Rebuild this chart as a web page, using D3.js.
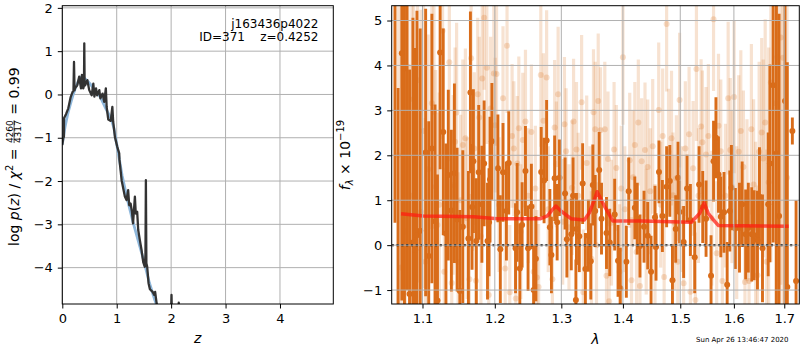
<!DOCTYPE html>
<html>
<head>
<meta charset="UTF-8">
<title></title>
<script src="https://cdn.jsdelivr.net/npm/d3@7"></script>
<style>
  body { margin: 0; background: #fff; }
  svg text { font-family: "DejaVu Sans", sans-serif; fill: #000; white-space: pre; }
</style>
</head>
<body>
<svg id="chart" width="800" height="350"></svg>
<script>
// ---- left panel: log p(z)
var pzZ = [0, 0.018, 0.03, 0.031, 0.07, 0.11, 0.154, 0.19, 0.205, 0.215, 0.225, 0.233, 0.275, 0.31, 0.343, 0.36, 0.385, 0.398, 0.404, 0.41,
  0.42, 0.46, 0.495, 0.54, 0.57, 0.59, 0.62, 0.64, 0.68, 0.70, 0.74, 0.77, 0.80, 0.815, 0.845, 0.89, 0.92, 0.935, 0.967, 1.01,
  1.046, 1.05, 1.09, 1.15, 1.18, 1.21, 1.23, 1.255, 1.28, 1.30, 1.334, 1.35, 1.376, 1.395, 1.426, 1.457, 1.487, 1.517, 1.528, 1.536,
  1.545, 1.56, 1.585, 1.61, 1.66, 1.69, 1.706, 1.73, 1.75, 1.85, 1.99, 2.007, 2.02, 2.13, 2.14, 2.15, 2.3];
var pzLogp = [-1.17, -1.0, -0.98, -0.55, -0.45, -0.32, -0.06, 0.06, 0.08, 0.75, 0.1, 0.14, 0.21, 0.41, 0.14, 0.45, 0.14, 0.2, 1.18, 0.3,
  0.21, 0.33, 0.10, -0.02, 0.25, -0.05, 0.14, -0.02, 0.10, -0.09, 0.02, -0.17, 0.14, -0.29, -0.58, -0.61, -0.29, -0.63, -0.98, -1.21,
  -1.36, -1.5, -1.98, -2.36, -2.44, -2.21, -2.56, -2.52, -2.71, -2.98, -2.36, -2.75, -2.71, -3.13, -3.37, -3.6, -3.87, -3.98, -3.7, -1.98,
  -3.9, -3.98, -4.36, -4.5, -4.56, -4.63, -4.56, -4.79, -4.95, -5.5, -5.5, -4.63, -5.5, -5.5, -4.81, -5.5, -6];
var smoothZ = [0, 0.05, 0.1, 0.15, 0.2, 0.25, 0.3, 0.35, 0.4, 0.45, 0.5, 0.6, 0.7, 0.8, 0.9, 0.95, 1.0, 1.1, 1.2, 1.3, 1.4, 1.5, 1.6, 1.7, 1.75, 1.8];
var smoothLogp = [-1.15, -0.75, -0.45, -0.22, 0.0, 0.18, 0.32, 0.4, 0.38, 0.33, 0.26, 0.1, -0.06, -0.33, -0.57, -0.78, -1.15, -1.88, -2.45, -2.95, -3.4, -3.85, -4.35, -4.75, -4.92, -5.1];
var zTicks = [0, 1, 2, 3, 4];
var pTicks = [-4, -3, -2, -1, 0, 1, 2];

// ---- right panel: spectrum (two sets) and model
var darkWave = [1.0642, 1.0682, 1.0730, 1.0764, 1.0797, 1.0830, 1.0874, 1.0904, 1.0927, 1.0970, 1.1042, 1.1083, 1.1125, 1.1167, 1.1200, 1.1236,
  1.1278, 1.1315, 1.1347, 1.1389, 1.1431, 1.1468, 1.1506, 1.1547, 1.1625, 1.1653, 1.1676, 1.1695, 1.1736, 1.1770, 1.1815, 1.1847, 1.1895,
  1.1917, 1.1931, 1.1958, 1.2045, 1.2080, 1.2119, 1.2169, 1.2203, 1.2303, 1.2327, 1.2367, 1.2401, 1.2451, 1.2490, 1.2540, 1.2574, 1.2608,
  1.2689, 1.2733, 1.2772, 1.2822, 1.2846, 1.2896, 1.2935, 1.2971, 1.3059, 1.3087, 1.3157, 1.3185, 1.3230, 1.3239, 1.3284, 1.3338, 1.3382,
  1.3431, 1.3469, 1.3502, 1.3541, 1.3606, 1.3644, 1.3726, 1.3780, 1.3862, 1.3918, 1.3956, 1.4058, 1.4098, 1.4202, 1.4244, 1.4290, 1.4360,
  1.4424, 1.4482, 1.4551, 1.4569, 1.4621, 1.4681, 1.4756, 1.4813, 1.4860, 1.4918, 1.4960, 1.4988, 1.5061, 1.5123, 1.5184, 1.5263, 1.5344,
  1.5411, 1.5473, 1.5566, 1.5613, 1.5658, 1.5706, 1.5750, 1.5811, 1.5871, 1.5921, 1.5952, 1.6028, 1.6108, 1.6160, 1.6228, 1.6280, 1.6348,
  1.6394, 1.6460, 1.6500, 1.6560, 1.6674, 1.6708, 1.6774, 1.6840, 1.6894, 1.7015, 1.7062, 1.7166, 1.7243];
var darkFlux = [6.5, -2.5, 4.27, 3.94, 7.0, -1.09, 0.06, -0.11, 0.22, 0.32, 2.06, -0.24, 2.15, 0.53, -1.23, 4.29,
  2.52, 0.26, 1.56, 0.77, 1.60, 0.57, -1.02, 0.41, 0.15, 3.40, 0.85, 1.87, 0.09, 1.62, 0.91, 1.82, 0.09,
  0.51, 1.46, 2.31, 1.71, -0.09, 1.62, 0.76, 1.83, -0.07, 0.73, -0.52, 0.45, 1.65, -0.07, 0.86, -1.00, -0.30,
  1.63, 1.44, 2.33, 0.40, -0.22, 1.49, 0.51, 1.50, 1.15, 0.13, 0.24, 1.10, -1.22, 0.36, 0.20, 1.37, -0.53,
  0.21, -0.36, 1.34, 0.76, 1.67, 0.59, 0.27, 0.06, 0.68, -0.35, -0.96, -0.37, 1.20, 0.83, 0.59, -0.02, 0.41,
  0.21, -0.59, 0.62, -0.04, 1.63, 0.65, 1.30, 1.43, -0.78, 0.36, 1.50, 0.74, 0.07, 1.26, 0.56, -0.27, 1.35,
  0.85, 0.59, -0.68, 1.87, 2.39, 1.57, 0.63, 0.73, -0.88, 0.76, 1.28, 0.37, 0.39, 0.91, 0.24, 0.39, 0.24,
  0.22, 0.11, 1.08, -0.07, 0.91, 1.82, 3.56, 2.04, 0.65, 3.21, -0.93, 2.54, -0.8];
var darkErr = [6, 6, 5.5, 5.5, 8, 5, 5, 4.5, 5, 4.5, 3.2, 3.0, 3.0, 2.6, 2.8, 2.6,
  2.3, 2.0, 1.9, 1.8, 2.0, 1.6, 1.8, 1.7, 1.5, 1.8, 1.4, 1.6, 1.4, 1.5, 1.3, 1.4, 1.3,
  1.2, 1.4, 1.3, 1.2, 1.2, 1.1, 1.1, 1.15, 1.0, 1.1, 1.0, 0.95, 1.0, 0.95, 0.95, 1.0, 0.95,
  1.0, 0.95, 0.9, 0.85, 0.85, 0.95, 0.85, 0.85, 0.8, 0.85, 0.8, 0.85, 0.9, 0.8, 0.8, 0.9, 0.8,
  0.8, 0.85, 0.9, 0.8, 0.85, 0.8, 0.8, 0.75, 0.8, 0.8, 0.9, 0.8, 0.75, 0.7, 0.8, 0.7, 0.8,
  0.75, 0.8, 0.7, 0.75, 0.7, 0.8, 0.9, 0.8, 0.8, 0.75, 0.8, 0.7, 0.8, 0.75, 0.8, 0.8, 0.85,
  0.8, 0.85, 0.9, 0.9, 0.9, 0.85, 0.9, 0.9, 0.95, 0.9, 0.95, 0.9, 1.0, 0.95, 1.0, 1.0, 1.05,
  1.0, 1.1, 1.1, 1.2, 1.6, 2.2, 3.5, 4.0, 4.5, 5.0, 5.0, 0.3, 1.8];

var lightWave = [1.0682, 1.0721, 1.0773, 1.0809, 1.0861, 1.0882, 1.0934, 1.0979, 1.1014, 1.1038, 1.1075, 1.1125, 1.1153, 1.1176, 1.1200,
  1.1225, 1.1269, 1.1292, 1.1361, 1.1394, 1.1413, 1.1440, 1.1461, 1.1482, 1.1517, 1.1547, 1.1583, 1.1607, 1.1639, 1.1663, 1.1683, 1.1708,
  1.1732, 1.1756, 1.1778, 1.1801, 1.1820, 1.1847, 1.1885, 1.1913, 1.1940, 1.1986, 1.2006, 1.2025, 1.2062, 1.2119, 1.2151, 1.2178, 1.2218,
  1.2252, 1.2278, 1.2307, 1.2329, 1.2352, 1.2381, 1.2411, 1.2451, 1.2493, 1.2540, 1.2574, 1.2600, 1.2623, 1.2649, 1.2683, 1.2723, 1.2772,
  1.2797, 1.2861, 1.2896, 1.2923, 1.2950, 1.3021, 1.3049, 1.3075, 1.3120, 1.3169, 1.3193, 1.3239, 1.3267, 1.3321, 1.3349, 1.3403, 1.3456,
  1.3480, 1.3513, 1.3541, 1.3562, 1.3590, 1.3628, 1.3698, 1.3726, 1.3751, 1.3770, 1.3808, 1.3852, 1.3890, 1.3944, 1.3972, 1.4000, 1.4031,
  1.4115, 1.4145, 1.4171, 1.4202, 1.4232, 1.4262, 1.4290, 1.4319, 1.4377, 1.4398, 1.4424, 1.4468, 1.4511, 1.4551, 1.4616, 1.4651, 1.4686,
  1.4712, 1.4756, 1.4790, 1.4843, 1.4869, 1.4895, 1.4930, 1.4956, 1.4988, 1.5028, 1.5061, 1.5092, 1.5160, 1.5184, 1.5234, 1.5276, 1.5295,
  1.5332, 1.5381, 1.5405, 1.5473, 1.5516, 1.5580, 1.5613, 1.5672, 1.5706, 1.5750, 1.5779, 1.5838, 1.5890, 1.5930, 1.5963, 1.6004, 1.6054,
  1.6094, 1.6134, 1.6184, 1.6214, 1.6254, 1.6294, 1.6340, 1.6384, 1.6424, 1.6460, 1.6494, 1.6544, 1.6574, 1.6614, 1.6644, 1.6684, 1.6728,
  1.6824, 1.6860, 1.6928, 1.6974, 1.7056];
var lightFlux = [2.0, -0.5, 0.31, 3.97, 1.1, 3.25, 3.67, 0.74, 2.54, -0.37, 1.69, 3.16, 2.97, 1.30, 0.45,
  0.9, 4.77, -0.59, 4.07, -0.84, 1.34, 2.30, 2.95, -0.38, 1.0, 2.23, 2.38, 0.6, -0.76, 4.16, 1.67, 2.15,
  -0.79, 3.36, 2.84, 0.2, 3.71, 5.06, 3.95, -1.11, 3.04, 3.82, 2.67, 3.81, 0.9, 3.27, -0.52, 4.44, -1.05,
  2.43, 2.15, -1.19, 1.82, 2.60, 0.3, 2.34, 2.75, 1.1, 2.52, -0.59, 1.26, -0.72, -0.93, 3.79, 2.77, 3.73,
  0.8, -0.76, 2.62, 1.8, 3.36, 0.52, 2.69, 2.09, 0.4, 1.28, 2.75, 2.13, 1.1, 3.18, -1.05, 1.83, 0.8,
  -0.30, 2.96, 2.58, 0.0, 3.21, 2.56, 2.58, -0.68, 1.92, -1.25, 0.5, 2.13, 1.72, -0.59, 1.26, 4.18, 0.8,
  1.89, -0.78, 1.51, 2.23, -0.15, 2.73, -0.91, 1.87, 2.12, 0.3, 1.74, 1.2, 2.20, -0.04, 3.01, 0.9, 2.43,
  -0.71, 4.92, 2.08, 2.38, 1.11, 0.5, 1.49, -0.37, 3.23, 0.8, -0.85, 2.15, 2.47, -1.04, 1.71, -1.22, 3.92,
  1.1, 2.64, 2.29, 2.02, 2.43, 0.6, 5.03, -0.18, 2.66, 2.09, -0.80, 1.1, 3.27, 2.12, 1.30, 3.30, 0.5,
  2.08, 2.54, 1.74, -0.82, 1.0, -0.80, 2.58, 1.35, 0.4, -0.67, 2.08, 2.51, 1.93, 2.73, -0.37, 1.4, 3.62,
  3.16, 4.19, 4.62, 4.17, 1.5];
var lightErr = [6, 6, 5.5, 5, 5, 5, 4.5, 4.5, 3.5, 3.2, 3.0, 2.8, 2.6, 2.6, 2.5,
  2.5, 2.4, 2.3, 2.2, 2.2, 2.0, 2.1, 2.0, 2.0, 1.9, 1.9, 2.0, 1.8, 1.9, 1.8, 1.8, 1.7,
  1.8, 1.7, 1.8, 1.7, 1.7, 1.6, 1.7, 1.6, 1.6, 1.6, 1.5, 1.6, 1.5, 1.6, 1.5, 1.5, 1.5,
  1.6, 1.5, 1.5, 1.5, 1.6, 1.5, 1.5, 1.6, 1.5, 1.5, 1.5, 1.4, 1.5, 1.4, 1.6, 1.5, 1.5,
  1.4, 1.5, 1.5, 1.4, 1.5, 1.4, 1.5, 1.4, 1.4, 1.5, 1.4, 1.5, 1.4, 1.5, 1.4, 1.5, 1.4,
  1.5, 1.4, 1.5, 1.4, 1.5, 1.4, 1.5, 1.4, 1.5, 1.4, 1.4, 1.5, 1.4, 1.5, 1.4, 1.5, 1.4,
  1.5, 1.4, 1.5, 1.4, 1.5, 1.4, 1.5, 1.4, 1.5, 1.4, 1.5, 1.4, 1.5, 1.4, 1.5, 1.4, 1.5,
  1.4, 1.5, 1.4, 1.5, 1.4, 1.5, 1.4, 1.5, 1.5, 1.4, 1.5, 1.5, 1.5, 1.5, 1.5, 1.5, 1.6,
  1.5, 1.5, 1.6, 1.5, 1.6, 1.5, 1.6, 1.6, 1.6, 1.6, 1.6, 1.6, 1.7, 1.6, 1.7, 1.7, 1.7,
  1.7, 1.8, 1.7, 1.8, 1.8, 1.8, 1.9, 1.9, 1.9, 2.0, 2.0, 2.1, 2.2, 2.3, 2.5, 3.0, 4.0,
  5.0, 5.0, 5.5, 6.0, 6.0];

var modelWave = [1.072, 1.1012, 1.170, 1.2035, 1.268, 1.2785, 1.2855, 1.2915, 1.2993, 1.3152, 1.3365, 1.3446, 1.3525, 1.3572,
  1.3692, 1.3831, 1.4312, 1.5203, 1.5356, 1.5438, 1.5513, 1.5607, 1.5702, 1.709];
var modelFlux = [0.70, 0.65, 0.63, 0.59, 0.59, 0.65, 0.78, 0.87, 0.76, 0.59, 0.56, 0.72, 1.0, 1.19,
  0.87, 0.54, 0.54, 0.51, 0.71, 0.94, 0.71, 0.57, 0.44, 0.42];
var lamTicks = [1.1, 1.2, 1.3, 1.4, 1.5, 1.6, 1.7];
var fTicks = [-1, 0, 1, 2, 3, 4, 5];

var orange = "#d96c19";
var svg = d3.select("#chart");

var L = {left: 62.3, right: 333.3, top: 5.7, bottom: 304};
var R = {left: 391.7, right: 799.3, top: 5.7, bottom: 304};

var xz = d3.scaleLinear().domain([0, 4.98]).range([L.left, L.right]);
var yp = d3.scaleLinear().domain([-4.84, 2.05]).range([L.bottom, L.top]);
var xl = d3.scaleLog().domain([1.06, 1.731]).range([R.left, R.right]);
var yf = d3.scaleLinear().domain([-1.31, 5.33]).range([R.bottom, R.top]);

var defs = svg.append("defs");
[["clipL", L], ["clipR", R]].forEach(function(c){
  defs.append("clipPath").attr("id", c[0]).append("rect")
    .attr("x", c[1].left).attr("y", c[1].top)
    .attr("width", c[1].right - c[1].left).attr("height", c[1].bottom - c[1].top);
});

function grid(g, xs, ys, xt, yt, box) {
  g.selectAll("line.gx").data(xt).enter().append("line")
    .attr("x1", function(d){ return xs(d); }).attr("x2", function(d){ return xs(d); })
    .attr("y1", box.top).attr("y2", box.bottom)
    .attr("stroke", "#b0b0b0").attr("stroke-width", 1);
  g.selectAll("line.gy").data(yt).enter().append("line")
    .attr("y1", function(d){ return ys(d); }).attr("y2", function(d){ return ys(d); })
    .attr("x1", box.left).attr("x2", box.right)
    .attr("stroke", "#b0b0b0").attr("stroke-width", 1);
}

function axes(xs, ys, xt, yt, box, fmtX) {
  var ax = svg.append("g")
    .attr("transform", "translate(0," + box.bottom + ")")
    .call(d3.axisBottom(xs).tickValues(xt).tickFormat(fmtX).tickSize(4.5).tickPadding(5));
  var ay = svg.append("g")
    .attr("transform", "translate(" + box.left + ",0)")
    .call(d3.axisLeft(ys).tickValues(yt).tickFormat(d3.format("d")).tickSize(4.5).tickPadding(5));
  [ax, ay].forEach(function(a){
    a.select(".domain").remove();
    a.selectAll("text").attr("font-size", 13).attr("font-family", "DejaVu Sans").attr("fill", "#000");
    a.selectAll("line").attr("stroke", "#000");
  });
  svg.append("rect").attr("x", box.left).attr("y", box.top)
    .attr("width", box.right - box.left).attr("height", box.bottom - box.top)
    .attr("fill", "none").attr("stroke", "#000").attr("stroke-width", 1);
}

// ---------- left panel
var gL = svg.append("g");
grid(gL, xz, yp, zTicks, pTicks, L);
var pzLine = d3.line().x(function(d){ return xz(d[0]); }).y(function(d){ return yp(d[1]); });
var cL = gL.append("g").attr("clip-path", "url(#clipL)");
cL.append("path").datum(d3.zip(smoothZ, smoothLogp)).attr("d", pzLine)
  .attr("fill", "none").attr("stroke", "#8fb8dc").attr("stroke-width", 2.8);
cL.append("path").datum(d3.zip(pzZ, pzLogp)).attr("d", pzLine)
  .attr("fill", "none").attr("stroke", "#333").attr("stroke-width", 2.3)
  .attr("stroke-linejoin", "round");
axes(xz, yp, zTicks, pTicks, L, d3.format("d"));

svg.append("text").attr("x", 318.5).attr("y", 27.5).attr("text-anchor", "end")
  .attr("font-size", 12).text("j163436p4022");
svg.append("text").attr("x", 318.5).attr("y", 40.5).attr("text-anchor", "end")
  .attr("font-size", 12).text("ID=371    z=0.4252");

svg.append("text").attr("x", (L.left + L.right) / 2).attr("y", 343).attr("text-anchor", "middle")
  .attr("font-size", 14).attr("font-style", "italic").text("z");

// y label with a fraction
var yl = svg.append("g").attr("transform", "translate(18.5,156.7) rotate(-90)");
var t1 = yl.append("text").attr("font-size", 14);
t1.append("tspan").text("log ");
t1.append("tspan").attr("font-style", "italic").text("p");
t1.append("tspan").text("(");
t1.append("tspan").attr("font-style", "italic").text("z");
t1.append("tspan").text(") / ");
t1.append("tspan").attr("font-style", "italic").text("χ");
t1.append("tspan").attr("font-size", 10).attr("dy", -6).text("2");
t1.append("tspan").attr("dy", 6).text(" = ");
var num = yl.append("text").attr("font-size", 9).attr("text-anchor", "middle").attr("y", -6).text("4260");
var den = yl.append("text").attr("font-size", 9).attr("text-anchor", "middle").attr("y", 2).text("4317");
var t3 = yl.append("text").attr("font-size", 14).text(" = 0.99");
var w1 = t1.node().getComputedTextLength();
var wf = Math.max(num.node().getComputedTextLength(), den.node().getComputedTextLength());
var w3 = t3.node().getComputedTextLength();
var x0 = -(w1 + wf + 2 + w3) / 2;
t1.attr("x", x0);
num.attr("x", x0 + w1 + 1 + wf / 2);
den.attr("x", x0 + w1 + 1 + wf / 2);
yl.append("line").attr("x1", x0 + w1 + 1).attr("x2", x0 + w1 + 1 + wf)
  .attr("y1", -4.4).attr("y2", -4.4).attr("stroke", "#000").attr("stroke-width", 0.7);
t3.attr("x", x0 + w1 + wf + 2);

// ---------- right panel
var gR = svg.append("g");
var cR = gR.append("g").attr("clip-path", "url(#clipR)");
var light = d3.range(lightWave.length).map(function(i){ return {w: lightWave[i], f: lightFlux[i], e: lightErr[i]}; });
var dark = d3.range(darkWave.length).map(function(i){ return {w: darkWave[i], f: darkFlux[i], e: darkErr[i]}; });

cR.selectAll("line.lbar").data(light).enter().append("line").attr("class", "lbar")
  .attr("x1", function(d){ return xl(d.w); }).attr("x2", function(d){ return xl(d.w); })
  .attr("y1", function(d){ return yf(d.f - d.e); }).attr("y2", function(d){ return yf(d.f + d.e); })
  .attr("stroke", orange).attr("stroke-opacity", 0.2).attr("stroke-width", 3.2);
cR.selectAll("circle.lpt").data(light).enter().append("circle").attr("class", "lpt")
  .attr("cx", function(d){ return xl(d.w); }).attr("cy", function(d){ return yf(d.f); })
  .attr("r", 3).attr("fill", orange).attr("fill-opacity", 0.22);

cR.selectAll("line.dbar").data(dark).enter().append("line").attr("class", "dbar")
  .attr("x1", function(d){ return xl(d.w); }).attr("x2", function(d){ return xl(d.w); })
  .attr("y1", function(d){ return yf(d.f - d.e); }).attr("y2", function(d){ return yf(d.f + d.e); })
  .attr("stroke", orange).attr("stroke-width", 2.9);
cR.selectAll("circle.dpt").data(dark).enter().append("circle").attr("class", "dpt")
  .attr("cx", function(d){ return xl(d.w); }).attr("cy", function(d){ return yf(d.f); })
  .attr("r", 3).attr("fill", orange);

grid(gR, xl, yf, lamTicks, fTicks, R);

cR.append("path").datum(d3.zip(modelWave, modelFlux))
  .attr("d", d3.line().x(function(d){ return xl(d[0]); }).y(function(d){ return yf(d[1]); }))
  .attr("fill", "none").attr("stroke", "#ff1a10").attr("stroke-opacity", 0.72).attr("stroke-width", 3.5)
  .attr("stroke-linejoin", "round");
cR.append("line").attr("x1", R.left).attr("x2", R.right).attr("y1", yf(0)).attr("y2", yf(0))
  .attr("stroke", "#111").attr("stroke-width", 2.2).attr("stroke-dasharray", "2.2,2.6");

axes(xl, yf, lamTicks, fTicks, R, d3.format(".1f"));

svg.append("text").attr("x", (R.left + R.right) / 2).attr("y", 344).attr("text-anchor", "middle")
  .attr("font-size", 14).attr("font-style", "italic").text("λ");

var yr = svg.append("g").attr("transform", "translate(349.5,155) rotate(-90)");
var tr = yr.append("text").attr("font-size", 14).attr("text-anchor", "middle");
tr.append("tspan").attr("font-style", "italic").text("f");
tr.append("tspan").attr("font-size", 10).attr("font-style", "italic").attr("dy", 3).text("λ");
tr.append("tspan").attr("dy", -3).text(" × 10");
tr.append("tspan").attr("font-size", 10).attr("dy", -6).text("−19");

svg.append("text").attr("x", 696).attr("y", 341.5).attr("font-size", 7).text("Sun Apr 26 13:46:47 2020");
</script>
</body>
</html>
